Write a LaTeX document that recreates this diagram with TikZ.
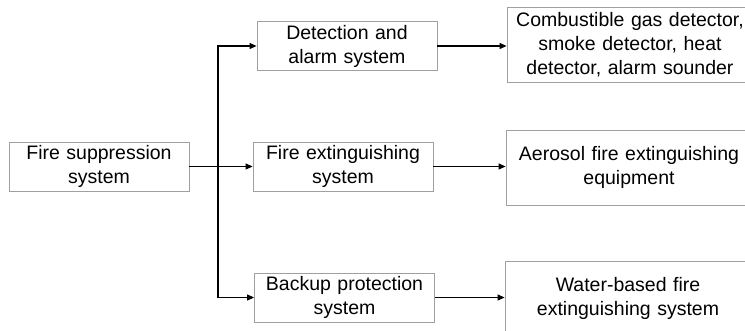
\documentclass[tikz,border=0pt]{standalone}
\usepackage{fontspec}
\setmainfont{Liberation Sans}
\usepackage{tikz}
\usetikzlibrary{arrows.meta}

\definecolor{boxgray}{RGB}{160,160,160}

\tikzset{
  sysbox/.style={draw=boxgray, line width=0.8pt, fill=white, minimum width=180pt, minimum height=49pt,
    text width=178pt, align=center, inner sep=0pt, font=\fontsize{19.5}{24}\selectfont},
  itembox/.style={sysbox, minimum width=246pt, minimum height=75pt, text width=240pt},
  flow/.style={line width=1.1pt, -{Triangle[length=7pt,width=6pt]}}
}

\begin{document}
\begin{tikzpicture}[x=1pt,y=-1pt]
                        \useasboundingbox (0,0) rectangle (745,331);
                        \clip (0,0) rectangle (745,331);
                        % Nodes
                        \node[sysbox] (sup) at (99,166.5) {Fire suppression\\system};
                        \node[sysbox] (det) at (347,46) {Detection and\\alarm system};
                        \node[sysbox] (ext) at (343,166.5) {Fire extinguishing\\system};
                        \node[sysbox] (bak) at (344.5,297.5) {Backup protection\\system};
                        \node[itembox] (sensors) at (630,45) {Combustible gas detector,\\smoke detector, heat\\detector, alarm sounder};
                        \node[itembox] (aerosol) at (629,167.5) {Aerosol fire extinguishing\\equipment};
                        \node[itembox] (water) at (628,298.5) {Water-based fire\\extinguishing system};
                        \coordinate (split) at (218,166.5);

                        % Edges
                        \draw[line width=1.1pt] (sup) -- (split);
                        \draw[flow] (split) -- (ext);
                        \draw[flow] (split) |- (det);
                        \draw[flow] (split) |- (bak);

                        \draw[flow] (det) -- (det -| sensors.west);
                        \draw[flow] (ext) -- (ext -| aerosol.west);
                        \draw[flow] (bak) -- (bak -| water.west);
                    \end{tikzpicture}
\end{document}
